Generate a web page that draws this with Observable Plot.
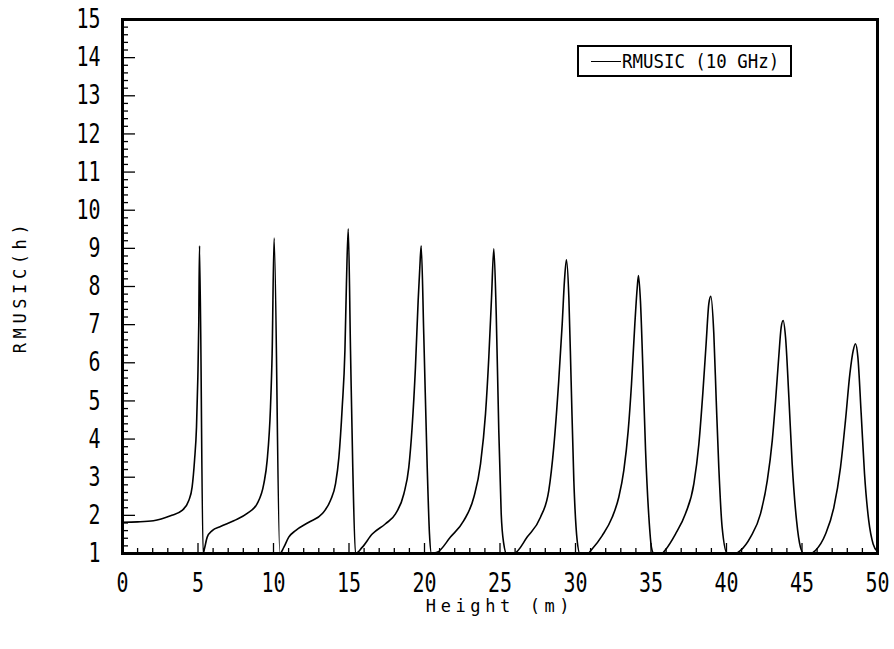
<!DOCTYPE html>
<html>
<head>
<meta charset="utf-8">
<script src="https://cdn.jsdelivr.net/npm/d3@7"></script>
<script src="https://cdn.jsdelivr.net/npm/@observablehq/plot@0.6"></script>
<style>
  body { margin: 0; background: #fff; }
  #wrap { position: relative; width: 894px; height: 649px; background: #fff; }
  #legend {
    position: absolute; left: 577px; top: 45px; width: 211px; height: 28px;
    border: 2px solid #000; background: #fff;
    font-family: "DejaVu Sans Mono", monospace; font-size: 20px; color: #000;
    display: flex; align-items: center; box-sizing: content-box; overflow: hidden;
  }
  #legend .swatch { flex: 0 0 30px; display: inline-block; width: 30px; height: 0; border-top: 1.5px solid #000; margin-left: 12px; }
  #legend .lbl { flex: 0 0 auto; display: inline-block; margin-left: 1px; transform: scaleX(0.87); transform-origin: left center; white-space: nowrap; }
</style>
</head>
<body>
<div id="wrap"></div>
<script>
// ---- data ----
const seriesName = "RMUSIC (10 GHz)";
const xLabel = "Height (m)";
const yLabel = "RMUSIC(h)";
const xDomain = [0, 50];
const yDomain = [1, 15];
const xTicks = [0, 5, 10, 15, 20, 25, 30, 35, 40, 45, 50];
const yTicks = [1, 2, 3, 4, 5, 6, 7, 8, 9, 10, 11, 12, 13, 14, 15];
const xMinor = d3.range(1, 50, 1).filter(v => v % 5 !== 0);
const yMinor = d3.range(1, 15.001, 0.2).map(v => +v.toFixed(1)).filter(v => Math.abs(v - Math.round(v)) > 1e-6);

const heightM = [
  0, 1.0, 2.05, 3.18, 3.95, 4.39, 4.61, 4.77, 4.9, 4.99, 5.05, 5.1, 5.34,
  5.43, 5.61, 5.94, 6.49, 7.37, 8.26, 8.92, 9.36, 9.58, 9.8, 9.91, 10.04, 10.42,
  10.68, 11.01, 11.46, 12.34, 13.22, 13.77, 14.11, 14.33, 14.55, 14.73, 14.83, 14.95, 15.1, 15.25, 15.43,
  15.87, 16.54, 17.42, 18.08, 18.63, 18.96, 19.18, 19.4, 19.58, 19.69, 19.78, 19.95, 20.18, 20.33, 20.46,
  20.84, 21.72, 22.6, 23.27, 23.71, 24.04, 24.26, 24.44, 24.59, 24.75, 24.92, 25.08, 25.25, 25.43,
  25.91, 26.8, 27.68, 28.23, 28.56, 28.89, 29.12, 29.27, 29.4, 29.56, 29.71, 29.89, 30.11, 30.29,
  30.8, 31.1, 31.77, 32.43, 32.87, 33.2, 33.49, 33.71, 33.93, 34.09, 34.17, 34.3, 34.46, 34.64, 34.86, 35.03, 35.19,
  35.7, 35.96, 36.62, 37.28, 37.84, 38.17, 38.43, 38.65, 38.83, 38.96, 39.16, 39.32, 39.49, 39.71, 40.05,
  40.6, 40.93, 41.59, 42.25, 42.7, 43.03, 43.25, 43.46, 43.62, 43.75, 43.91, 44.13, 44.35, 44.64, 44.9, 45.12,
  45.6, 45.89, 46.56, 47.11, 47.55, 47.88, 48.17, 48.39, 48.54, 48.7, 48.92, 49.14, 49.42, 49.71, 50
];
const rmusic = [
  1.82, 1.83, 1.86, 1.99, 2.13, 2.39, 2.74, 3.44, 4.31, 5.62, 7.0, 9.07, 1.0,
  1.13, 1.43, 1.6, 1.71, 1.86, 2.05, 2.31, 2.83, 3.44, 4.83, 6.24, 9.27, 1.0,
  1.16, 1.43, 1.6, 1.82, 2.04, 2.39, 2.83, 3.52, 4.83, 6.32, 8.07, 9.51, 6.32, 3.26, 1.0,
  1.16, 1.51, 1.78, 2.04, 2.56, 3.26, 4.31, 5.88, 7.63, 8.5, 9.07, 6.76, 3.26, 1.51, 1.0,
  1.03, 1.43, 1.86, 2.48, 3.35, 4.66, 6.15, 7.72, 8.99, 7.28, 4.22, 2.04, 1.25, 1.0,
  1.0, 1.43, 1.95, 2.65, 3.79, 5.53, 7.02, 8.16, 8.7, 7.72, 5.53, 2.91, 1.34, 1.0,
  1.0, 1.12, 1.47, 1.95, 2.48, 3.18, 4.22, 5.45, 7.02, 7.98, 8.29, 7.63, 5.88, 3.7, 1.95, 1.16, 1.0,
  1.0, 1.1, 1.51, 2.04, 2.83, 3.87, 5.19, 6.5, 7.55, 7.74, 6.76, 5.01, 3.26, 1.69, 1.0,
  1.0, 1.08, 1.43, 2.04, 2.91, 3.96, 5.01, 6.15, 6.93, 7.11, 6.67, 5.1, 3.35, 1.86, 1.16, 1.0,
  1.0, 1.08, 1.51, 2.21, 3.26, 4.49, 5.71, 6.32, 6.5, 6.15, 4.66, 3.09, 1.86, 1.25, 1.05
];

const data = heightM.map((h, i) => ({h, r: rmusic[i]}));

const chart = Plot.plot({
  width: 894,
  height: 649,
  marginLeft: 122,
  marginRight: 17,
  marginTop: 19,
  marginBottom: 96,
  style: {fontFamily: "'DejaVu Sans Mono', monospace", color: "#000", background: "#fff", overflow: "visible"},
  x: {domain: xDomain},
  y: {domain: yDomain},
  marks: [
    Plot.line(data, {x: "h", y: "r", stroke: "#000", strokeWidth: 1.6, curve: "monotone-x"}),
    // inward ticks, bottom axis
    Plot.ruleX(xMinor, {x: d => d, y1: yDomain[0], y2: yDomain[0], insetTop: -5, stroke: "#000", strokeWidth: 1.3}),
    Plot.ruleX(xTicks, {x: d => d, y1: yDomain[0], y2: yDomain[0], insetTop: -10, stroke: "#000", strokeWidth: 1.3}),
    // inward ticks, left axis
    Plot.ruleY(yMinor, {y: d => d, x1: xDomain[0], x2: xDomain[0], insetRight: -6, stroke: "#000", strokeWidth: 1.3}),
    Plot.ruleY(yTicks, {y: d => d, x1: xDomain[0], x2: xDomain[0], insetRight: -13, stroke: "#000", strokeWidth: 1.3}),
    Plot.axisX(xTicks, {tickSize: 0, tickPadding: 19, fontSize: 27, label: xLabel, labelAnchor: "center", labelOffset: 58, labelArrow: "none"}),
    Plot.axisY(yTicks, {tickSize: 0, tickPadding: 22, fontSize: 27, label: yLabel, labelAnchor: "center", labelOffset: 109, labelArrow: "none"}),
    Plot.frame({stroke: "#000", strokeWidth: 3})
  ]
});

document.getElementById("wrap").appendChild(chart);

// plotter-like narrow tick digits
chart.querySelectorAll('g[aria-label="x-axis tick label"] text, g[aria-label="y-axis tick label"] text').forEach(t => {
  const n = t.textContent.length;
  t.setAttribute("textLength", n * 12);
  t.setAttribute("lengthAdjust", "spacingAndGlyphs");
});
chart.querySelectorAll('g[aria-label="x-axis label"] text, g[aria-label="y-axis label"] text').forEach(t => {
  t.setAttribute("font-size", "17");
  t.style.fontSize = "17px";
  t.setAttribute("letter-spacing", "4.6");
});

// legend
const legend = document.createElement("div");
legend.id = "legend";
legend.innerHTML = '<span class="swatch"></span><span class="lbl"></span>';
legend.querySelector(".lbl").textContent = seriesName;
document.getElementById("wrap").appendChild(legend);
</script>
</body>
</html>
